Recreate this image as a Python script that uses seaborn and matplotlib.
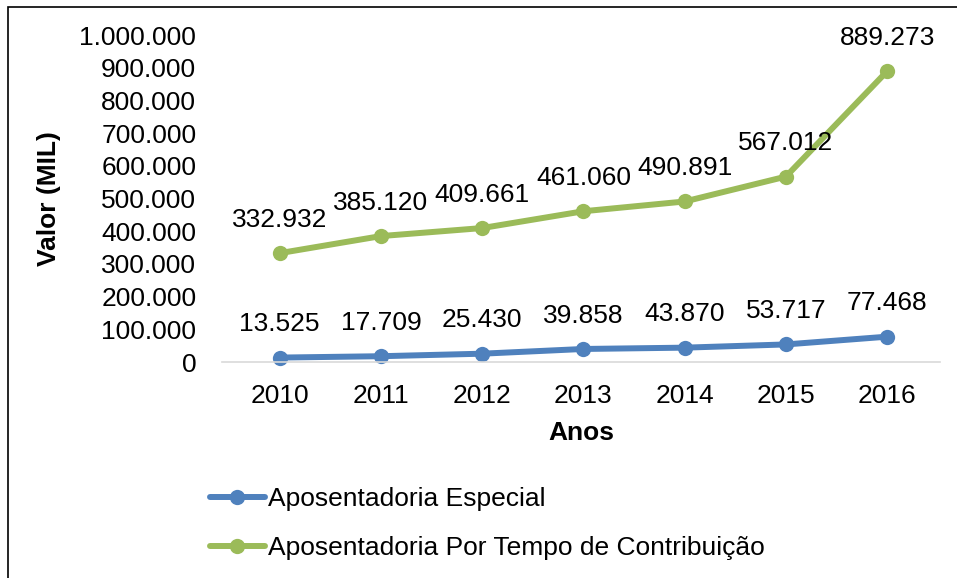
import pandas as pd
import numpy as np
import matplotlib.pyplot as plt
import seaborn as sns
from matplotlib.patches import Rectangle
from matplotlib.ticker import FuncFormatter

sns.set_style("white")
plt.rcParams['font.family'] = ['Liberation Sans', 'DejaVu Sans']
plt.rcParams['text.color'] = 'black'
plt.rcParams['axes.labelcolor'] = 'black'

# Dados
anos = ['2010', '2011', '2012', '2013', '2014', '2015', '2016']
especial = [13525, 17709, 25430, 39858, 43870, 53717, 77468]
tempo_contrib = [332932, 385120, 409661, 461060, 490891, 567012, 889273]
series = ['Aposentadoria Especial', 'Aposentadoria Por Tempo de Contribuição']
cores = ['#4F81BD', '#9BBB59']

df = pd.DataFrame({
    'pos': list(range(len(anos))) * 2,
    'valor': especial + tempo_contrib,
    'serie': [series[0]] * len(anos) + [series[1]] * len(anos),
})


def fmt_br(v):
    return f"{int(round(v)):,}".replace(',', '.')


FS = 19

fig = plt.figure(figsize=(9.57, 5.78), dpi=100)
ax = fig.add_axes([0.232, 0.3737, 0.750, 0.5657])

sns.lineplot(data=df, x='pos', y='valor', hue='serie', palette=cores,
             marker='o', markersize=11, markeredgewidth=0, linewidth=4.3,
             ax=ax, legend=False, clip_on=False)

# Rótulos de dados
for vals in (especial, tempo_contrib):
    for i, v in enumerate(vals):
        ax.annotate(fmt_br(v), (i, v), xytext=(0, 24), textcoords='offset points',
                    ha='center', va='center', fontsize=FS, color='black')

ax.set_xlim(-0.57, 6.52)
ax.set_ylim(0, 1000000)
ax.set_xticks(range(len(anos)))
ax.set_xticklabels(anos)
ax.set_yticks(np.arange(0, 1000001, 100000))
ax.yaxis.set_major_formatter(FuncFormatter(lambda v, p: fmt_br(v)))
ax.tick_params(axis='both', labelsize=FS, length=0, colors='black')
ax.tick_params(axis='x', pad=16)
ax.tick_params(axis='y', pad=18.5)

for s in ['top', 'right', 'left']:
    ax.spines[s].set_visible(False)
ax.spines['bottom'].set_color('#D9D9D9')
ax.spines['bottom'].set_linewidth(1.2)

ax.set_xlabel('Anos', fontsize=FS, fontweight='bold', labelpad=9)
ax.set_ylabel('Valor (MIL)', fontsize=FS, fontweight='bold')
ax.yaxis.set_label_coords(-0.224, 0.5)

# Legenda
handles = [plt.Line2D([], [], color=c, linewidth=4.3, marker='o', markersize=11,
                      markeredgewidth=0) for c in cores]
fig.legend(handles, series, loc='upper left', bbox_to_anchor=(0.208, 0.175),
           frameon=False, fontsize=FS, handlelength=2.1, handletextpad=0.1,
           labelspacing=0.95, borderaxespad=0)

# Moldura
fig.patches.append(Rectangle((8 / 957, -0.1), 1.2, 1 - 7 / 578 + 0.1,
                             transform=fig.transFigure, fill=False,
                             edgecolor='black', linewidth=1.2))

plt.savefig('out.png', dpi=100)
